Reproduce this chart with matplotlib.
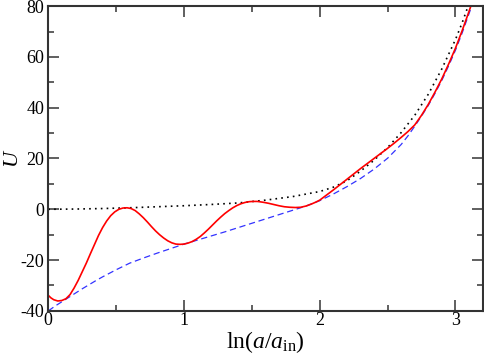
import matplotlib
matplotlib.use("Agg")
import matplotlib.pyplot as plt
from matplotlib.ticker import MultipleLocator

# ------------------------------------------------------------
# data
# ------------------------------------------------------------
red_x = [0.00, 0.02, 0.04, 0.07, 0.10, 0.13, 0.16, 0.19, 0.22, 0.25,
         0.28, 0.31, 0.34, 0.37, 0.40, 0.43, 0.46, 0.49, 0.52, 0.55,
         0.58, 0.61, 0.64, 0.67, 0.70, 0.73, 0.76, 0.79, 0.82, 0.85,
         0.88, 0.91, 0.94, 0.97, 1.00, 1.03, 1.06, 1.09, 1.12, 1.15,
         1.18, 1.21, 1.24, 1.27, 1.30, 1.33, 1.36, 1.39, 1.42, 1.45,
         1.48, 1.51, 1.54, 1.58, 1.62, 1.66, 1.70, 1.74, 1.78, 1.82,
         1.86, 1.90, 1.94, 1.97, 2.00, 2.05, 2.10, 2.15, 2.20, 2.25,
         2.30, 2.35, 2.40, 2.45, 2.50, 2.55, 2.60, 2.65, 2.70, 2.75,
         2.80, 2.85, 2.90, 2.95, 3.00, 3.05, 3.10, 3.12]
red_y = [-33.9, -34.9, -35.6, -36.1, -35.9, -35.2, -33.6, -31.0, -28.0, -24.6,
         -21.2, -17.5, -13.9, -10.3, -7.2, -4.6, -2.5, -1.0, 0.0, 0.5,
         0.6, 0.3, -0.5, -1.8, -3.3, -5.0, -6.8, -8.5, -10.0, -11.3,
         -12.4, -13.2, -13.7, -13.8, -13.7, -13.3, -12.7, -11.8, -10.7, -9.3,
         -7.8, -6.2, -4.6, -3.1, -1.7, -0.5, 0.6, 1.5, 2.2, 2.7,
         3.0, 3.1, 3.1, 2.8, 2.4, 1.9, 1.4, 1.0, 0.8, 0.7,
         0.8, 1.3, 2.1, 2.8, 3.6, 5.6, 7.6, 9.7, 11.8, 13.9,
         16.0, 18.0, 20.0, 22.0, 24.0, 26.1, 28.3, 30.6, 33.2, 37.0,
         41.3, 46.2, 51.4, 57.2, 63.4, 70.4, 77.9, 81.0]

blue_x = [0.00, 0.05, 0.10, 0.15, 0.20, 0.25, 0.30, 0.35, 0.40, 0.45,
          0.50, 0.60, 0.70, 0.80, 0.90, 1.00, 1.10, 1.20, 1.30, 1.40,
          1.50, 1.60, 1.70, 1.80, 1.90, 2.00, 2.10, 2.20, 2.30, 2.40,
          2.50, 2.60, 2.65, 2.70, 2.75, 2.80, 2.85, 2.90, 2.95, 3.00,
          3.05, 3.10, 3.13]
blue_y = [-40.0, -38.1, -36.4, -34.7, -33.0, -31.3, -29.7, -28.1, -26.6, -25.2,
          -23.8, -21.2, -19.2, -17.3, -15.5, -13.7, -12.1, -10.5, -8.9, -7.2,
          -5.5, -3.8, -2.1, -0.4, 1.3, 3.4, 6.0, 8.9, 12.1, 15.8,
          20.1, 25.5, 28.9, 32.7, 36.7, 40.9, 45.7, 50.8, 56.5, 62.6,
          69.5, 77.0, 81.5]

dot_x = [0.0, 0.2, 0.4, 0.6, 0.8, 1.0, 1.2, 1.4, 1.6, 1.8,
         2.0, 2.1, 2.2, 2.3, 2.4, 2.5, 2.6, 2.7, 2.8, 2.9,
         3.0, 3.05, 3.1]
dot_y = [0.0, 0.1, 0.3, 0.6, 1.0, 1.4, 1.9, 2.5, 3.6, 5.0,
         7.0, 8.7, 11.2, 15.0, 19.3, 24.3, 30.2, 37.0, 45.3, 55.3,
         66.8, 73.5, 81.0]

# ------------------------------------------------------------
# style
# ------------------------------------------------------------
plt.rcParams["font.family"] = ["Liberation Serif", "DejaVu Serif"]
plt.rcParams["mathtext.fontset"] = "custom"
plt.rcParams["mathtext.rm"] = "Liberation Serif"
plt.rcParams["mathtext.it"] = "Liberation Serif:italic"
plt.rcParams["axes.unicode_minus"] = False

fig = plt.figure(figsize=(4.85, 3.59), dpi=100)
ax = fig.add_axes([0.0996, 0.134, 0.8954, 0.849])

ax.plot(dot_x, dot_y, color="black", linestyle=(0, (1, 2.5)), linewidth=1.2)
ax.plot(blue_x, blue_y, color="#3333ff", linestyle=(0, (5, 3)), linewidth=0.9)
ax.plot(red_x, red_y, color="red", linewidth=1.2)

ax.set_xlim(0, 3.2)
ax.set_ylim(-40, 80)
ax.xaxis.set_major_locator(MultipleLocator(1))
ax.xaxis.set_minor_locator(MultipleLocator(0.5))
ax.yaxis.set_major_locator(MultipleLocator(20))
ax.yaxis.set_minor_locator(MultipleLocator(10))
ax.tick_params(which="both", direction="in", top=True, right=True,
               labelsize=13, pad=1, width=1.2, color="#444444")
ax.tick_params(axis="y", pad=3)
ax.tick_params(which="major", length=8)
ax.tick_params(which="minor", length=4)
for s in ax.spines.values():
    s.set_linewidth(1.5)
    s.set_color("#333333")

ax.set_xlabel(r"ln($a$/$a_{\mathrm{in}}$)", fontsize=17, labelpad=0)
ax.set_ylabel(r"$U$", fontsize=16)
ax.yaxis.set_label_coords(-0.058, 0.5)

fig.savefig("out.png", dpi=100)
